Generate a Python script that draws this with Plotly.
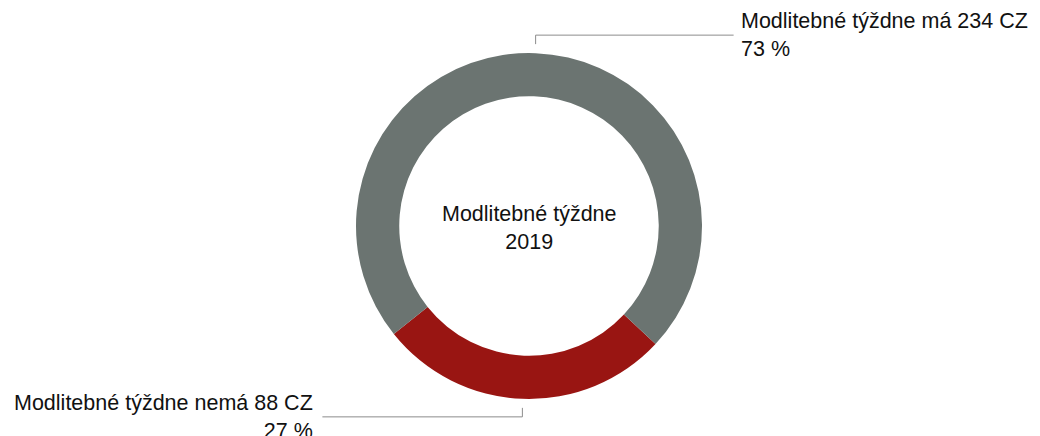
import math
import plotly.graph_objects as go

# ---- data ----
labels = ["Modlitebné týždne nemá", "Modlitebné týždne má"]
values = [88, 234]
colors = ["#991512", "#6b7471"]
center_title = ["Modlitebné týždne", "2019"]
unit = "CZ"

# ---- layout constants (pixels, page coordinates) ----
W, H = 1040, 436
OFF = 8  # page body margin offset
CX, CY, R = 529, 226, 173
ROT = 133  # start angle, clockwise from 12 o'clock
FONT = "Liberation Sans, Arial, Helvetica, sans-serif"
LINE_C = "#8c8c8c"

def px(x):
    return (x - OFF) / W

def py(y):
    return 1 - (y - OFF) / H

fig = go.Figure()
fig.add_trace(go.Pie(
    labels=labels, values=values, sort=False, direction="clockwise",
    rotation=ROT, hole=0.75, textinfo="none", hoverinfo="label+value+percent",
    marker=dict(colors=colors, line=dict(width=0)),
    domain=dict(x=[px(CX - R), px(CX + R)], y=[py(CY + R), py(CY - R)]),
    showlegend=False,
))

total = sum(values)
shapes = []
annotations = []
cum = 0
for lab, v in zip(labels, values):
    frac = v / total
    mid = ROT + 360 * (cum + frac / 2)
    cum += frac
    th = math.radians(mid)
    ex = CX + R * math.sin(th)
    ey = CY - R * math.cos(th)
    pct = round(frac * 100)
    up = math.cos(th) > 0
    y0 = ey - 9 if up else ey + 9
    y1 = ey - 18 if up else ey + 18
    right = up  # top label goes right, bottom label goes left
    x1 = ex + 198 if right else ex - 200
    shapes.append(dict(type="line", xref="paper", yref="paper",
                       x0=px(ex), y0=py(y0), x1=px(ex), y1=py(y1),
                       line=dict(color=LINE_C, width=1)))
    shapes.append(dict(type="line", xref="paper", yref="paper",
                       x0=px(ex), y0=py(y1), x1=px(x1), y1=py(y1),
                       line=dict(color=LINE_C, width=1)))
    txt = f"{lab} {v} {unit}<br>{pct} %"
    annotations.append(dict(
        x=px(x1 + 5) if right else px(x1 - 7), y=py(y1), xref="paper", yref="paper",
        xanchor="left" if right else "right", yanchor="middle",
        align="left" if right else "right", showarrow=False, text=txt,
        font=dict(family=FONT, size=21.5, color="#111111"),
    ))

annotations.append(dict(
    x=px(CX), y=py(CY + 2), xref="paper", yref="paper", xanchor="center", yanchor="middle",
    showarrow=False, text="<br>".join(center_title),
    font=dict(family=FONT, size=21.5, color="#111111"),
))

fig.update_layout(
    width=W, height=H, margin=dict(l=0, r=0, t=0, b=0),
    paper_bgcolor="white", plot_bgcolor="white",
    shapes=shapes, annotations=annotations,
)
fig.write_html("out.html")
